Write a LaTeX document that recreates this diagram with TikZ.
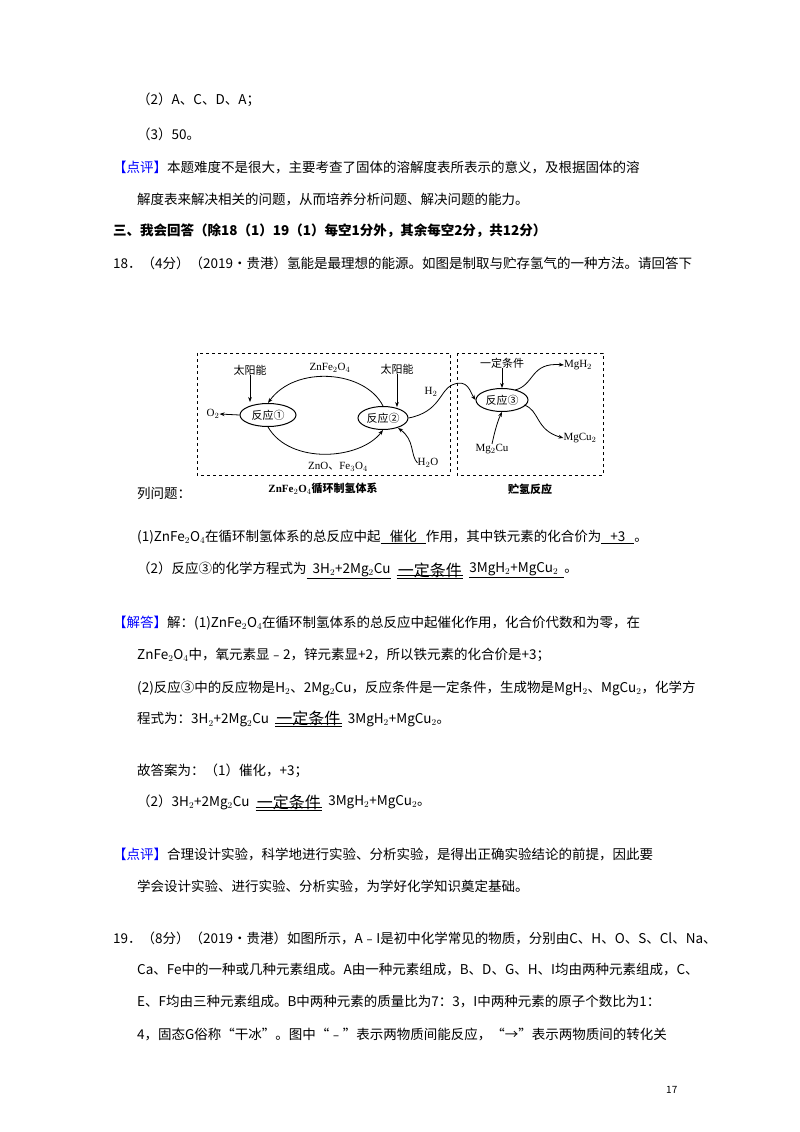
\documentclass[tikz,border=0pt]{standalone}
\usepackage{fontspec}
\setmainfont{Noto Sans CJK SC}
\newfontfamily\lat{Liberation Serif}
\usetikzlibrary{arrows.meta,shapes.geometric}
\begin{document}
\begin{tikzpicture}[x=1pt,y=-1pt,
  tx/.style={anchor=west,inner sep=0,font=\fontsize{13.5}{14}\selectfont},
  dg/.style={inner sep=0,font=\fontsize{11}{12}\selectfont},
  el/.style={draw,ellipse,line width=1pt,minimum width=56pt,minimum height=23pt,inner sep=0,font=\fontsize{11}{12}\selectfont},
  ar/.style={-{Stealth[length=5pt]},line width=0.8pt},
  box/.style={draw,dashed,line width=1pt},
  cond/.style={inner sep=1pt,anchor=west,font=\fontsize{16}{17}\selectfont}]
\useasboundingbox (0,0) rectangle (800,1132);
\fill[white] (0,0) rectangle (800,1132);
\node[tx] (l1) at (137,100) {（2）A、C、D、A；};
\node[tx] (l2) at (137,134) {（3）50。};
\node[tx] (l3) at (113,167) {\textcolor{blue}{【点评】}本题难度不是很大，主要考查了固体的溶解度表所表示的意义，及根据固体的溶};
\node[tx] (l4) at (137,199) {解度表来解决相关的问题，从而培养分析问题、解决问题的能力。};
\node[tx,font=\fontsize{13.5}{14}\selectfont\bfseries] (l5) at (113,231) {三、我会回答（除18（1）19（1）每空1分外，其余每空2分，共12分）};
\node[tx] (l6) at (113,263) {18．（4分）（2019•贵港）氢能是最理想的能源。如图是制取与贮存氢气的一种方法。请回答下};
% diagram
\draw[box] (197,353) rectangle (450,475);
\draw[box] (457,353) rectangle (603,475);
\node[el] (r1) at (268,415) {反应①};
\node[el,minimum width=50pt] (r2) at (383,418) {反应②};
\node[el,minimum width=52pt] (r3) at (502,400) {反应③};
\node[dg] (s1) at (250,370) {太阳能};
\node[dg] (s2) at (397,369) {太阳能};
\node[dg] (o2) at (213,414) {\lat O$_2$};
\node[dg] (zf) at (330,368) {\lat ZnFe$_2$O$_4$};
\node[dg] (zo) at (338,467) {\lat ZnO\rmfamily 、\lat Fe$_3$O$_4$};
\node[dg] (h2o) at (428,463) {\lat H$_2$O};
\node[dg] (h2) at (431,392) {\lat H$_2$};
\node[dg] (cd) at (502,363) {一定条件};
\node[dg] (mh) at (578,365) {\lat MgH$_2$};
\node[dg] (mc) at (580,438) {\lat MgCu$_2$};
\node[dg] (mg) at (492,449) {\lat Mg$_2$Cu};
\node[dg,font=\fontsize{11}{12}\selectfont\bfseries] (c1) at (323,489) {\lat ZnFe$_2$O$_4$\rmfamily 循环制氢体系};
\node[dg,font=\fontsize{11}{12}\selectfont\bfseries] (c2) at (530,489) {贮氢反应};
\draw[ar] (s1) -- (250,402);
\draw[ar] (s2) -- (397,407);
\draw[ar] (r1.west) -- (o2.east);
\draw[ar] (r2.north) .. controls (365,370) and (295,365) .. (r1.north);
\draw[ar] (r1.south) .. controls (290,465) and (360,460) .. (r2.south);
\draw[ar] (h2o.west) .. controls (410,455) and (415,440) .. (398,428);
\draw[line width=0.8pt,-{Stealth[length=5pt]}] (r2.east) .. controls (440,412) and (440,390) .. (452,385) .. controls (468,378) and (470,392) .. (r3.west);
\draw[ar] (cd) -- (r3.north);
\draw[ar] (515,390) .. controls (535,385) and (530,362) .. (mh.west);
\draw[ar] (524,405) .. controls (540,410) and (535,430) .. (mc.west);
\draw[ar] (mg.north) .. controls (495,430) and (498,420) .. (r3.south);
%
\node[tx] (l7) at (137,493) {列问题：};
\node[tx] (l8) at (137,537) {(1)ZnFe$_2$O$_4$在循环制氢体系的总反应中起\underline{\ \ \ 催化\ \ \ }作用，其中铁元素的化合价为\underline{\ \ \ +3\ \ \ }。};
\node[tx] (l9) at (137,570) {（2）反应③的化学方程式为\underline{\ \ 3H$_2$+2Mg$_2$Cu}};
\node[cond] (e1) at ([xshift=6pt]l9.east) {一定条件};
\draw[line width=0.8pt] (e1.south west) -- (e1.south east) ([yshift=3pt]e1.south west) -- ([yshift=3pt]e1.south east);
\node[tx] (l9b) at ([xshift=6pt]e1.east) {\underline{3MgH$_2$+MgCu$_2$\ \ }。};
\node[tx] (l10) at (113,623) {\textcolor{blue}{【解答】}解：(1)ZnFe$_2$O$_4$在循环制氢体系的总反应中起催化作用，化合价代数和为零，在};
\node[tx] (l11) at (137,655) {ZnFe$_2$O$_4$中，氧元素显﹣2，锌元素显+2，所以铁元素的化合价是+3；};
\node[tx] (l12) at (137,688) {(2)反应③中的反应物是H$_2$、2Mg$_2$Cu，反应条件是一定条件，生成物是MgH$_2$、MgCu$_2$，化学方};
\node[tx] (l13) at (137,720) {程式为：3H$_2$+2Mg$_2$Cu};
\node[cond] (e2) at ([xshift=6pt,yshift=2pt]l13.east) {一定条件};
\draw[line width=0.8pt] (e2.south west) -- (e2.south east) ([yshift=3pt]e2.south west) -- ([yshift=3pt]e2.south east);
\node[tx] (l13b) at ([xshift=6pt,yshift=-2pt]e2.east) {3MgH$_2$+MgCu$_2$。};
\node[tx] (l14) at (137,771) {故答案为：（1）催化，+3；};
\node[tx] (l15) at (137,802) {（2）3H$_2$+2Mg$_2$Cu};
\node[cond] (e3) at ([xshift=6pt]l15.east) {一定条件};
\draw[line width=0.8pt] (e3.south west) -- (e3.south east) ([yshift=3pt]e3.south west) -- ([yshift=3pt]e3.south east);
\node[tx] (l15b) at ([xshift=6pt]e3.east) {3MgH$_2$+MgCu$_2$。};
\node[tx] (l16) at (113,854) {\textcolor{blue}{【点评】}合理设计实验，科学地进行实验、分析实验，是得出正确实验结论的前提，因此要};
\node[tx] (l17) at (137,886) {学会设计实验、进行实验、分析实验，为学好化学知识奠定基础。};
\node[tx] (l18) at (113,938) {19．（8分）（2019•贵港）如图所示，A﹣I是初中化学常见的物质，分别由C、H、O、S、Cl、Na、};
\node[tx] (l19) at (137,970) {Ca、Fe中的一种或几种元素组成。A由一种元素组成，B、D、G、H、I均由两种元素组成，C、};
\node[tx] (l20) at (137,1002) {E、F均由三种元素组成。B中两种元素的质量比为7：3，I中两种元素的原子个数比为1：};
\node[tx] (l21) at (137,1034) {4，固态G俗称“干冰”。图中“﹣”表示两物质间能反应，“→”表示两物质间的转化关};
\node[tx,font=\fontsize{10}{11}\selectfont] (pg) at (666,1090) {17};
\end{tikzpicture}
\end{document}
